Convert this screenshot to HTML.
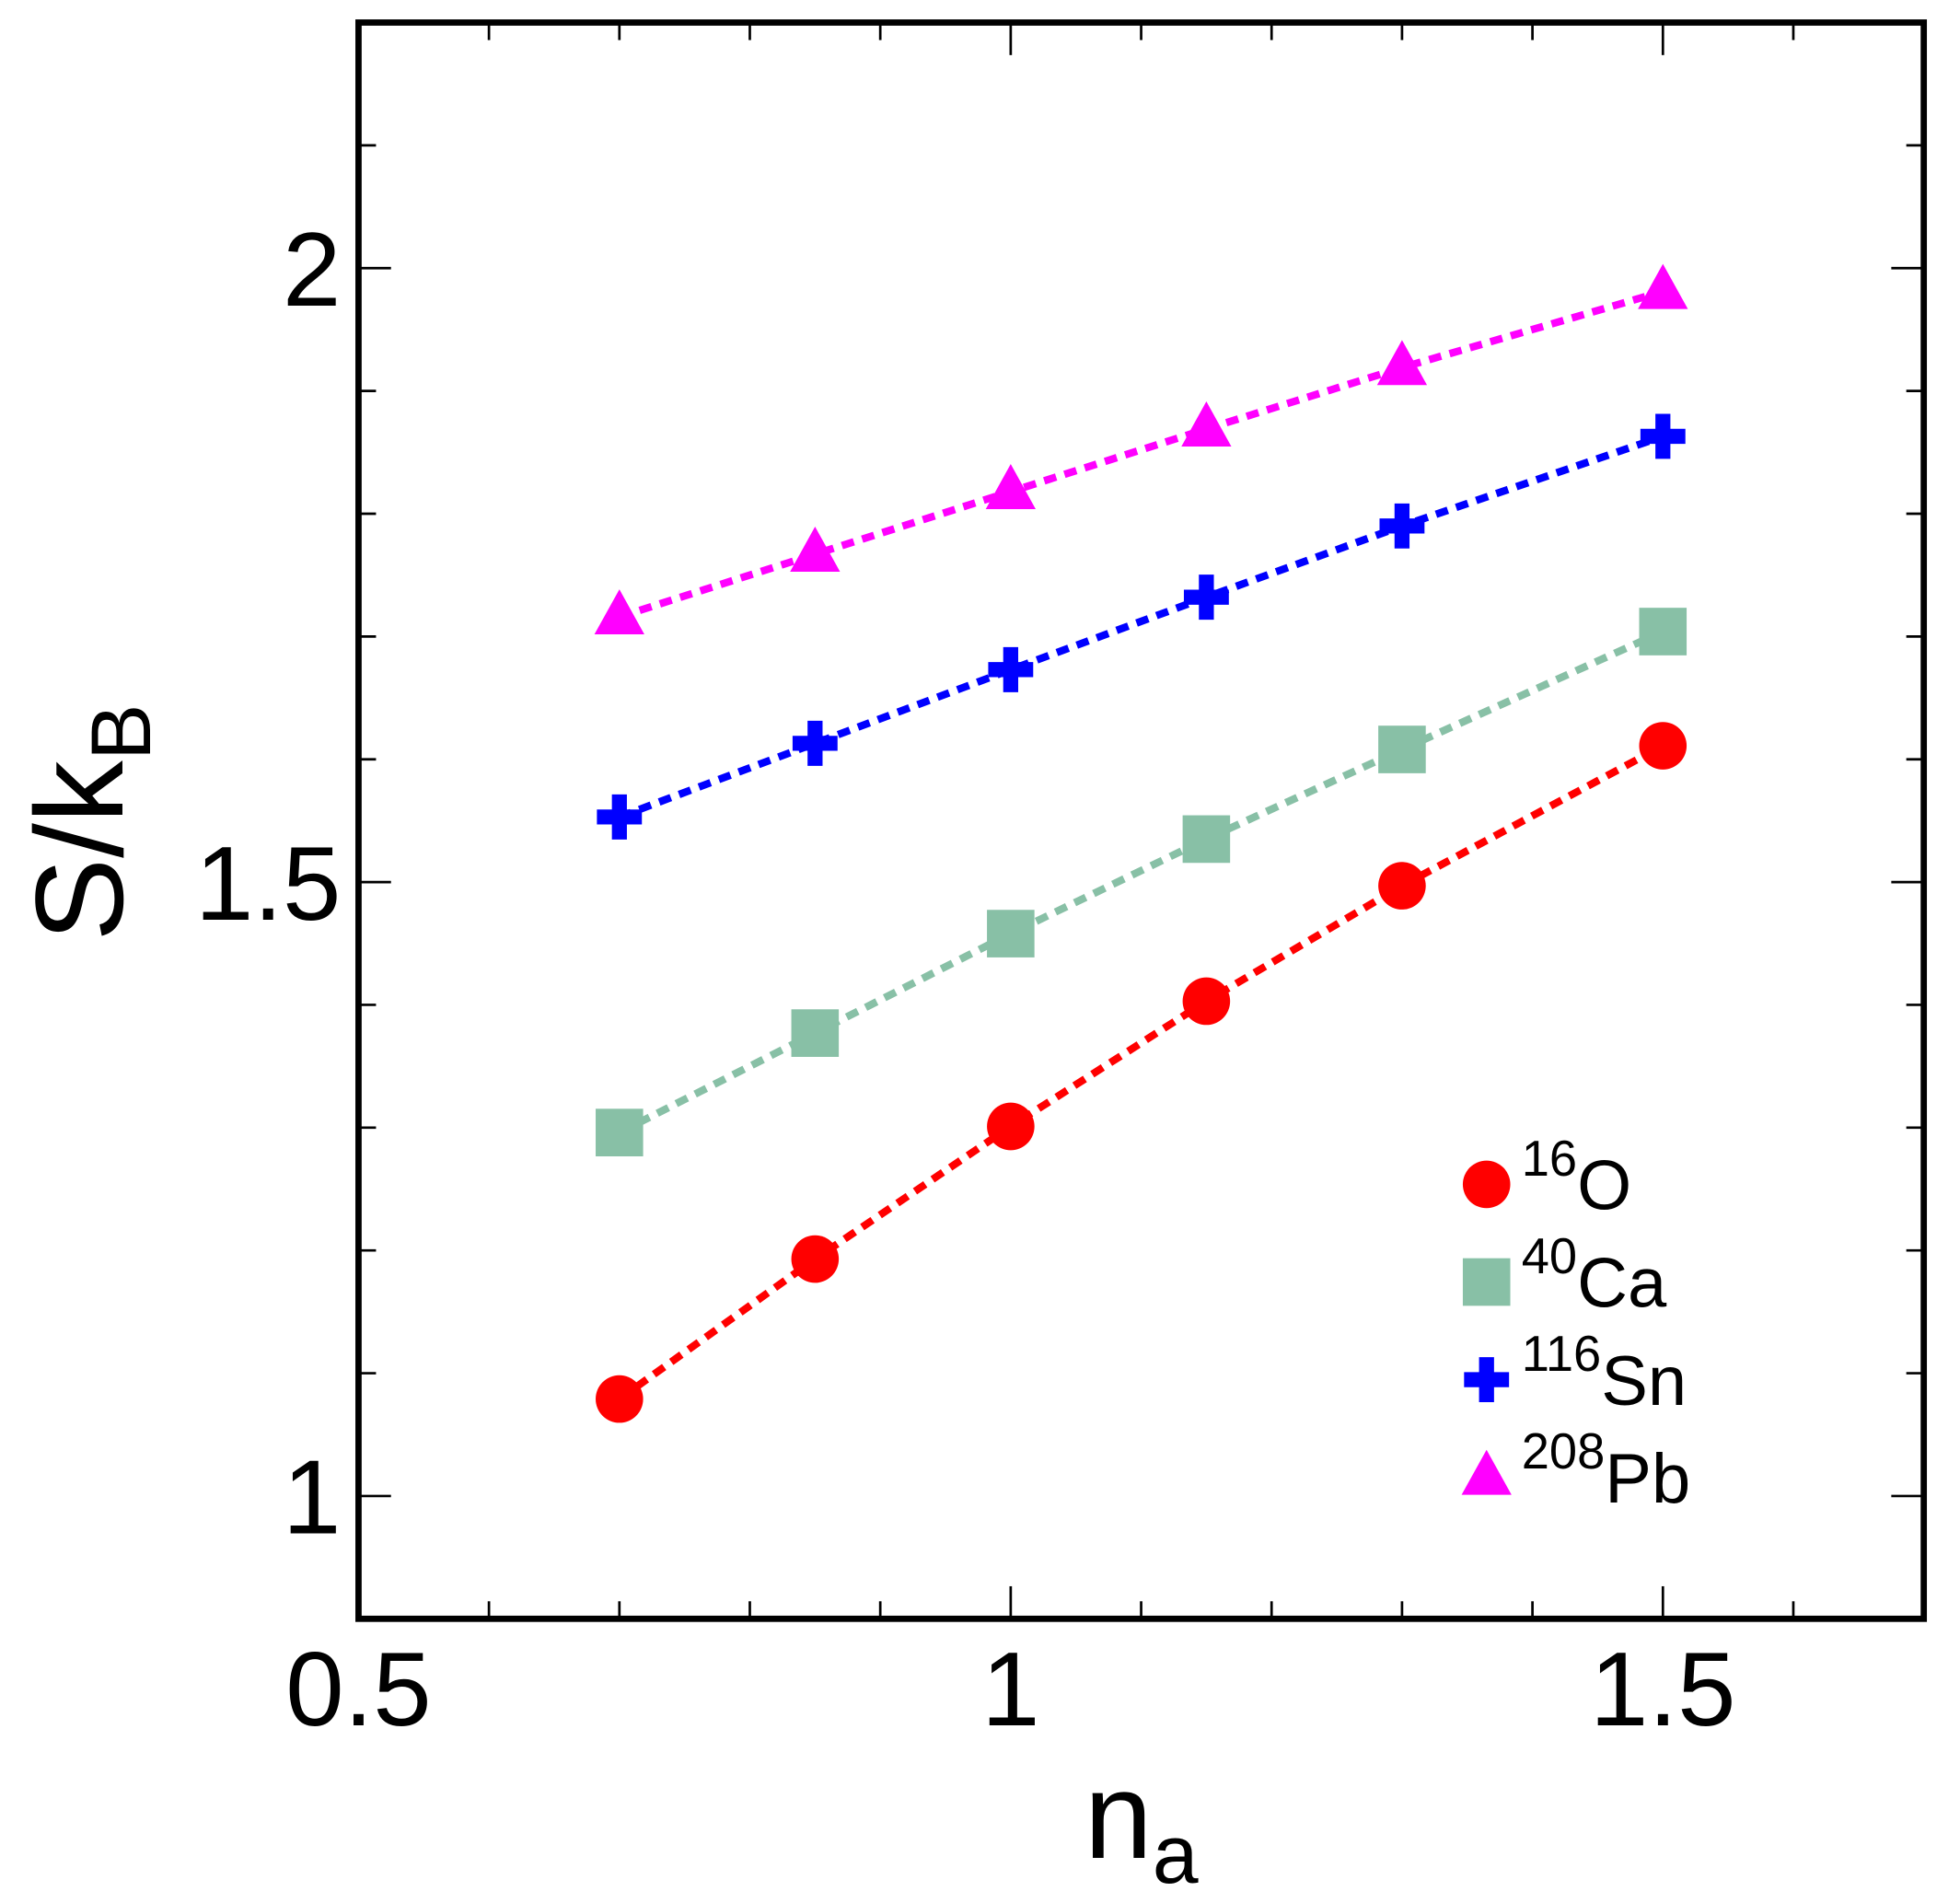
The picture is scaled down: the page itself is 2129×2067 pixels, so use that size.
<!DOCTYPE html>
<html><head><meta charset="utf-8"><style>
html,body{margin:0;padding:0;background:#fff}
svg{display:block}
text{font-family:"Liberation Sans",Arial,sans-serif;fill:#000}
</style></head><body>
<svg id="chart" width="2129" height="2067" viewBox="0 0 1569 1520" preserveAspectRatio="none" xmlns="http://www.w3.org/2000/svg">
<g id="ticks"></g>
<g id="series"></g>
<rect x="287" y="18" width="1253" height="1275" fill="none" stroke="#000" stroke-width="5"/>
<text x="868" y="1484" font-size="98">n<tspan font-size="66" dy="20">a</tspan></text>
<text transform="translate(98,752) rotate(-90)" font-size="100">S/k<tspan font-size="68" dy="22">B</tspan></text>
<g id="legend"></g>
</svg>
<script>
const xs = [0.7, 0.85, 1.0, 1.15, 1.3, 1.5];
const oVals = [1.079, 1.193, 1.301, 1.403, 1.497, 1.611];
const caVals = [1.296, 1.377, 1.458, 1.535, 1.608, 1.704];
const snVals = [1.553, 1.613, 1.673, 1.732, 1.790, 1.863];
const pbVals = [1.716, 1.767, 1.818, 1.869, 1.919, 1.981];
const xTickLabels = ["0.5", "1", "1.5"];
const yTickLabels = ["1", "1.5", "2"];

const NS = "http://www.w3.org/2000/svg";
const X0 = 287, X1 = 1540, Y0 = 1293, Y1 = 18;
const xmin = 0.5, xmax = 1.7, ymin = 0.9, ymax = 2.2;
const sx = v => X0 + (v - xmin) / (xmax - xmin) * (X1 - X0);
const sy = v => Y0 - (v - ymin) / (ymax - ymin) * (Y0 - Y1);
function mk(tag, attrs, parent) {
  const e = document.createElementNS(NS, tag);
  for (const k in attrs) e.setAttribute(k, attrs[k]);
  parent.appendChild(e);
  return e;
}
const ticks = document.getElementById('ticks');
for (let i = 0; i <= 12; i++) {
  const v = xmin + i * 0.1, x = sx(v), major = (i % 5 === 0), L = major ? 26 : 14;
  const t1 = mk('line', {x1: x, x2: x, y1: Y0, y2: Y0 - L, stroke: '#000', 'stroke-width': 2}, ticks);
  
  
  const t2 = mk('line', {x1: x, x2: x, y1: Y1, y2: Y1 + L, stroke: '#000', 'stroke-width': 2}, ticks);
  
  
}
xTickLabels.forEach(s => {
  const t = mk('text', {x: sx(parseFloat(s)), y: 1378, 'font-size': 84, 'text-anchor': 'middle'}, ticks);
  t.textContent = s;
  
  
});
for (let i = 0; i <= 13; i++) {
  const v = ymin + i * 0.1, y = sy(v), major = (Math.abs(v * 2 - Math.round(v * 2)) < 1e-6), L = major ? 26 : 14;
  const t1 = mk('line', {x1: X0, x2: X0 + L, y1: y, y2: y, stroke: '#000', 'stroke-width': 2}, ticks);
  
  
  const t2 = mk('line', {x1: X1, x2: X1 - L, y1: y, y2: y, stroke: '#000', 'stroke-width': 2}, ticks);
  
  
}
yTickLabels.forEach(s => {
  const t = mk('text', {x: 273, y: sy(parseFloat(s)) + 30, 'font-size': 84, 'text-anchor': 'end'}, ticks);
  t.textContent = s;
  
  
});

function marker(kind, x, y, color, parent) {
  let e;
  if (kind === 'circle') e = mk('circle', {cx: x, cy: y, r: 19, fill: color}, parent);
  else if (kind === 'square') e = mk('rect', {x: x - 19, y: y - 19, width: 38, height: 38, fill: color}, parent);
  else if (kind === 'plus') e = mk('path', {d: `M${x-18},${y-6}h12v-12h12v12h12v12h-12v12h-12v-12h-12z`, fill: color}, parent);
  else e = mk('polygon', {points: `${x},${y-22} ${x+20},${y+14} ${x-20},${y+14}`, fill: color}, parent);
  return e;
}
const seriesDefs = [
  {name: 'o16', vals: oVals, color: '#ff0000', kind: 'circle', sup: '16', el: 'O'},
  {name: 'ca40', vals: caVals, color: '#88c0a6', kind: 'square', sup: '40', el: 'Ca'},
  {name: 'sn116', vals: snVals, color: '#0000ff', kind: 'plus', sup: '116', el: 'Sn'},
  {name: 'pb208', vals: pbVals, color: '#ff00ff', kind: 'triangle', sup: '208', el: 'Pb'}
];
const sg = document.getElementById('series');
const lg = document.getElementById('legend');
seriesDefs.forEach((s, si) => {
  const g = mk('g', {}, sg);
  
  
  const pts = xs.map((x, i) => sx(x) + ',' + sy(s.vals[i])).join(' ');
  const pl = mk('polyline', {points: pts, fill: 'none', stroke: s.color, 'stroke-width': 6, 'stroke-dasharray': '10,7'}, g);
  
  
  xs.forEach((x, i) => {
    const m = marker(s.kind, sx(x), sy(s.vals[i]), s.color, g);
    
    
  });
  const ly = 946 + si * 78;
  const le = mk('g', {}, lg);
  
  
  marker(s.kind, 1190, ly, s.color, le);
  const t = mk('text', {x: 1218, y: ly + 20, 'font-size': 56}, le);
  const sp = mk('tspan', {'font-size': 40, dy: -27}, t);
  sp.textContent = s.sup;
  const el = mk('tspan', {dy: 27}, t);
  el.textContent = s.el;
});
</script>
</body></html>
